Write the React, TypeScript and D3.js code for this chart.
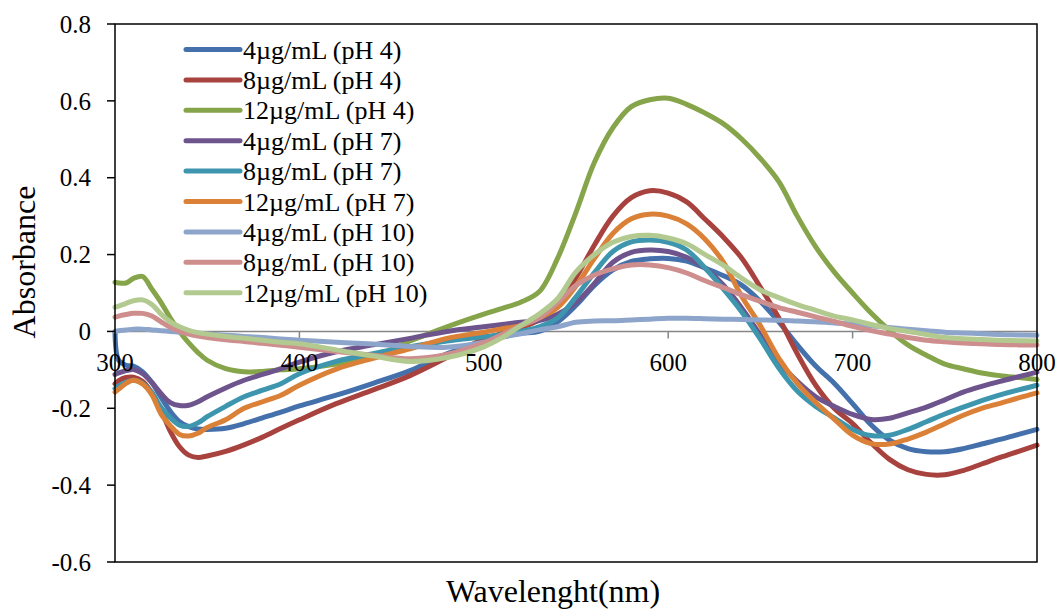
import React from 'react';
import * as d3 from 'd3';

const wavelengths = [300, 302, 306, 310, 315, 320, 325, 330, 335, 340, 345, 350, 360, 370, 380, 390, 400, 420, 440, 460, 480, 500, 510, 520, 530, 540, 550, 560, 570, 580, 590, 600, 610, 620, 630, 640, 650, 660, 670, 680, 690, 700, 710, 720, 730, 740, 750, 760, 770, 780, 790, 800];

const c4pH4 = [0.0, -0.075, -0.088, -0.09, -0.105, -0.133, -0.172, -0.208, -0.235, -0.248,
  -0.254, -0.255, -0.252, -0.24, -0.225, -0.21, -0.194, -0.166, -0.135, -0.102,
  -0.058, -0.025, -0.014, -0.005, 0.0, 0.025, 0.068, 0.12, 0.16, 0.182,
  0.189, 0.19, 0.183, 0.165, 0.145, 0.12, 0.078, 0.025, -0.035, -0.09,
  -0.135, -0.188, -0.243, -0.283, -0.305, -0.313, -0.313, -0.305, -0.293, -0.281,
  -0.268, -0.255];

const c8pH4 = [-0.136, -0.128, -0.12, -0.119, -0.13, -0.16, -0.205, -0.26, -0.3, -0.322,
  -0.328, -0.324, -0.312, -0.295, -0.275, -0.252, -0.23, -0.188, -0.152, -0.115,
  -0.068, -0.02, -0.006, 0.01, 0.03, 0.07, 0.14, 0.225, 0.3, 0.348,
  0.366, 0.36, 0.337, 0.292, 0.245, 0.19, 0.115, 0.035, -0.058, -0.14,
  -0.2, -0.24, -0.29, -0.333, -0.36, -0.372, -0.373, -0.362, -0.345, -0.328,
  -0.312, -0.296];

const c12pH4 = [0.128, 0.126, 0.126, 0.138, 0.143, 0.11, 0.075, 0.035, 0.0, -0.03,
  -0.055, -0.075, -0.097, -0.105, -0.104, -0.1, -0.097, -0.085, -0.065, -0.025,
  0.012, 0.045, 0.06, 0.076, 0.103, 0.19, 0.31, 0.44, 0.53, 0.585,
  0.603, 0.607, 0.591, 0.568, 0.54, 0.5, 0.45, 0.39, 0.3, 0.22,
  0.155, 0.1, 0.048, 0.003, -0.035, -0.062, -0.085, -0.097, -0.108, -0.115,
  -0.12, -0.125];

const c4pH7 = [-0.112, -0.108, -0.102, -0.099, -0.11, -0.133, -0.162, -0.185, -0.193, -0.192,
  -0.183, -0.17, -0.147, -0.127, -0.112, -0.097, -0.08, -0.053, -0.035, -0.018,
  0.0, 0.012, 0.018, 0.024, 0.028, 0.045, 0.075, 0.125, 0.18, 0.206,
  0.212, 0.208, 0.193, 0.165, 0.12, 0.06, -0.01, -0.08, -0.13, -0.17,
  -0.195, -0.216, -0.229, -0.226, -0.212, -0.197, -0.178, -0.158, -0.143, -0.13,
  -0.118, -0.106];

const c8pH7 = [-0.149, -0.142, -0.132, -0.127, -0.135, -0.16, -0.198, -0.225, -0.244, -0.247,
  -0.238, -0.222, -0.195, -0.17, -0.153, -0.136, -0.11, -0.078, -0.058, -0.04,
  -0.025, -0.014, -0.008, 0.0, 0.012, 0.035, 0.09, 0.153, 0.208, 0.233,
  0.238, 0.232, 0.212, 0.165, 0.11, 0.05, -0.02, -0.095, -0.155, -0.195,
  -0.225, -0.255, -0.271, -0.27, -0.255, -0.235, -0.215, -0.197, -0.18, -0.165,
  -0.152, -0.14];

const c12pH7 = [-0.158, -0.15, -0.135, -0.127, -0.137, -0.165, -0.215, -0.245, -0.268, -0.272,
  -0.265, -0.25, -0.23, -0.2, -0.183, -0.166, -0.14, -0.098, -0.07, -0.045,
  -0.018, -0.002, 0.007, 0.015, 0.035, 0.062, 0.118, 0.19, 0.255, 0.293,
  0.305, 0.3, 0.28, 0.24, 0.18, 0.09, 0.015, -0.07, -0.135, -0.185,
  -0.228, -0.27, -0.292, -0.293, -0.28, -0.262, -0.24, -0.218, -0.2, -0.187,
  -0.173, -0.16];

const c4pH10 = [0.0, 0.002, 0.004, 0.006, 0.006, 0.004, 0.002, 0.0, -0.002, -0.004,
  -0.006, -0.007, -0.01, -0.013, -0.016, -0.02, -0.023, -0.028, -0.033, -0.039,
  -0.041, -0.028, -0.015, -0.006, 0.004, 0.012, 0.024, 0.027, 0.028, 0.03,
  0.032, 0.034, 0.034, 0.033, 0.032, 0.031, 0.03, 0.029, 0.027, 0.025,
  0.022, 0.019, 0.015, 0.01, 0.006, 0.002, -0.002, -0.004, -0.006, -0.008,
  -0.009, -0.01];

const c8pH10 = [0.037, 0.04, 0.044, 0.047, 0.047, 0.04, 0.025, 0.011, 0.0, -0.007,
  -0.012, -0.016, -0.022, -0.026, -0.031, -0.036, -0.041, -0.052, -0.062, -0.071,
  -0.06, -0.03, -0.008, 0.015, 0.035, 0.075, 0.12, 0.147, 0.163, 0.173,
  0.173, 0.166, 0.152, 0.132, 0.114, 0.095, 0.078, 0.062, 0.05, 0.038,
  0.026, 0.013, 0.002, -0.007, -0.016, -0.023, -0.027, -0.03, -0.032, -0.034,
  -0.035, -0.035];

const c12pH10 = [0.063, 0.066, 0.073, 0.08, 0.082, 0.07, 0.045, 0.025, 0.012, 0.003,
  -0.003, -0.007, -0.013, -0.018, -0.023, -0.028, -0.032, -0.048, -0.064, -0.078,
  -0.068, -0.04, -0.016, 0.015, 0.045, 0.085, 0.155, 0.2, 0.232, 0.247,
  0.25, 0.243, 0.228, 0.2, 0.172, 0.138, 0.108, 0.088, 0.07, 0.055,
  0.04, 0.03, 0.018, 0.008, 0.0, -0.008, -0.016, -0.019, -0.021, -0.023,
  -0.024, -0.025];

const seriesNames = [
  '4µg/mL (pH 4)', '8µg/mL (pH 4)', '12µg/mL (pH 4)',
  '4µg/mL (pH 7)', '8µg/mL (pH 7)', '12µg/mL (pH 7)',
  '4µg/mL (pH 10)', '8µg/mL (pH 10)', '12µg/mL (pH 10)',
];
const seriesValues = [c4pH4, c8pH4, c12pH4, c4pH7, c8pH7, c12pH7, c4pH10, c8pH10, c12pH10];
const seriesColors = ['#4470AB', '#A8423F', '#86A44A', '#6E548D', '#3D96AE', '#DA8137', '#8EA5CB', '#CE8E8D', '#B2C98F'];

const xTicks = [300, 400, 500, 600, 700, 800];
const yTicks = [0.8, 0.6, 0.4, 0.2, 0, -0.2, -0.4, -0.6];
const xTitle = 'Wavelenght(nm)';
const yTitle = 'Absorbance';

const FONT = '"Liberation Serif", "Times New Roman", serif';

export default function App() {
  const W = 1060, H = 610;
  const left = 115, right = 1037, top = 24, bottom = 562;
  const x = d3.scaleLinear().domain([300, 800]).range([left, right]);
  const y = d3.scaleLinear().domain([-0.6, 0.8]).range([bottom, top]);
  const line = d3.line<[number, number]>()
    .x(d => x(d[0]))
    .y(d => y(d[1]))
    .curve(d3.curveCatmullRom.alpha(0.5));
  const y0 = y(0);
  const fmt = (v: number) => {
    const r = Math.round(v * 10) / 10;
    return r === 0 ? '0' : String(r);
  };
  const legendX1 = 186, legendX2 = 240, legendY0 = 49.5, legendStep = 30.4;

  return (
    <svg width={W} height={H} style={{ position: 'absolute', left: 0, top: 0, background: '#fff' }} fontFamily={FONT}>
      <rect x={0} y={0} width={W} height={H} fill="#fff" />
      {/* zero axis line and ticks */}
      <line x1={left} x2={right} y1={y0} y2={y0} stroke="#868686" strokeWidth={1.5} />
      {xTicks.map(t => (
        <line key={t} x1={x(t)} x2={x(t)} y1={y0} y2={y0 + 7} stroke="#868686" strokeWidth={1.5} />
      ))}
      {/* series */}
      {seriesValues.map((vals, i) => (
        <path key={i}
          d={line(wavelengths.map((w, j) => [w, vals[j]] as [number, number])) || ''}
          fill="none" stroke={seriesColors[i]} strokeWidth={5}
          strokeLinejoin="round" strokeLinecap="round" />
      ))}
      {/* plot border */}
      <rect x={left} y={top} width={right - left} height={bottom - top} fill="none" stroke="#000" strokeWidth={1.5} />
      {yTicks.map(t => (
        <line key={t} x1={left - 8} x2={left} y1={y(t)} y2={y(t)} stroke="#000" strokeWidth={1.5} />
      ))}
      {/* tick labels */}
      {yTicks.map(t => (
        <text key={t} x={91} y={y(t)} dy="0.35em" textAnchor="end" fontSize={25} fill="#000">{fmt(t)}</text>
      ))}
      {xTicks.map(t => (
        <text key={t} x={x(t)} y={371} textAnchor="middle" fontSize={25} fill="#000">{t}</text>
      ))}
      {/* titles */}
      <text x={553} y={602} textAnchor="middle" fontSize={32} fill="#000">{xTitle}</text>
      <text transform={`translate(35, 262) rotate(-90)`} textAnchor="middle" fontSize={32} fill="#000">{yTitle}</text>
      {/* legend */}
      {seriesNames.map((n, i) => (
        <g key={n}>
          <line x1={legendX1} x2={legendX2} y1={legendY0 + i * legendStep} y2={legendY0 + i * legendStep}
            stroke={seriesColors[i]} strokeWidth={5} strokeLinecap="round" />
          <text x={243} y={legendY0 + i * legendStep} dy="0.35em" fontSize={26} fill="#000">{n}</text>
        </g>
      ))}
    </svg>
  );
}
